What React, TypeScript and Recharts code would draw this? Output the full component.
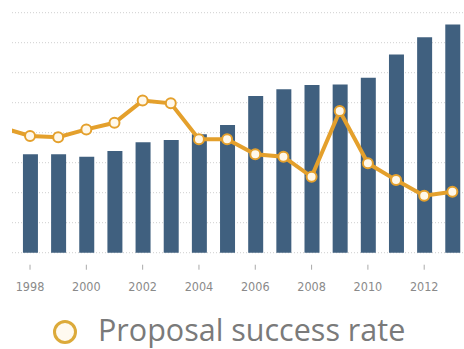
import React from "react";
import { ComposedChart, Bar, Line, XAxis, YAxis, CartesianGrid, Legend } from "recharts";

const years = [1997, 1998, 1999, 2000, 2001, 2002, 2003, 2004, 2005, 2006, 2007, 2008, 2009, 2010, 2011, 2012, 2013];
const proposals = [null, 3.28, 3.28, 3.2, 3.39, 3.68, 3.76, 3.95, 4.26, 5.22, 5.45, 5.59, 5.61, 5.83, 6.61, 7.18, 7.61];
const successRate = [4.17, 3.89, 3.85, 4.11, 4.33, 5.07, 4.98, 3.78, 3.78, 3.28, 3.2, 2.53, 4.72, 2.98, 2.42, 1.9, 2.03];
const tickYears = [1998, 2000, 2002, 2004, 2006, 2008, 2010, 2012];
const yTicks = [0, 1, 2, 3, 4, 5, 6, 7, 8];
const legendLabel = "Proposal success rate";

const data = years.map((y, i) => ({ year: y, proposals: proposals[i], rate: successRate[i] }));

const BAR = "#40607f";
const GOLD = "#e4a02c";
const TICK_FONT = "'Liberation Sans Narrow', 'DejaVu Sans Condensed', sans-serif";
const FONT = "'Open Sans', Lato, sans-serif";

const Tick = (props: any) => {
  const { x, y, payload } = props;
  return (
    <g>
      <line x1={x} x2={x} y1={y + 12} y2={y + 17} stroke="#aaa" strokeWidth={1} />
      <text x={x} y={y + 38.5} textAnchor="middle" fill="#8a8a8a" fontSize={12.5} fontFamily={TICK_FONT}>
        {payload.value}
      </text>
    </g>
  );
};

const LegendContent = () => (
  <svg width={464} height={56.3} style={{ display: "block", overflow: "visible" }}>
    <circle cx={65} cy={39} r={10.5} fill="#fffaf0" stroke="#dcaa3a" strokeWidth={3} />
    <text x={98} y={48.3} fill="#7a7a7a" fontSize={30.5} fontFamily={FONT}>
      {legendLabel}
    </text>
  </svg>
);

export default function App() {
  return (
    <div style={{ position: "absolute", left: 0, top: 0, width: 464, height: 349, overflow: "hidden", background: "#fff" }}>
      <ComposedChart width={467} height={349} data={data} margin={{ top: 12.7, left: 12, right: 0, bottom: 0 }}>
        <CartesianGrid vertical={false} stroke="#cfcfcf" strokeDasharray="1 2" />
        <XAxis
          dataKey="year"
          type="number"
          domain={[1997.36, 2013.52]}
          allowDataOverflow
          ticks={tickYears}
          axisLine={false}
          tickLine={false}
          tickSize={0}
          tickMargin={0}
          height={40}
          tick={<Tick />}
          interval={0}
        />
        <YAxis hide domain={[0, 8]} ticks={yTicks} />
        <Bar dataKey="proposals" fill={BAR} barSize={15} isAnimationActive={false} />
        <Line
          dataKey="rate"
          type="linear"
          stroke={GOLD}
          strokeWidth={4}
          dot={{ r: 5, fill: "#fff8ea", stroke: GOLD, strokeWidth: 2 }}
          isAnimationActive={false}
        />
        <Legend
          verticalAlign="bottom"
          content={<LegendContent />}
          wrapperStyle={{ left: 0, width: 464, bottom: 0 }}
        />
      </ComposedChart>
    </div>
  );
}
